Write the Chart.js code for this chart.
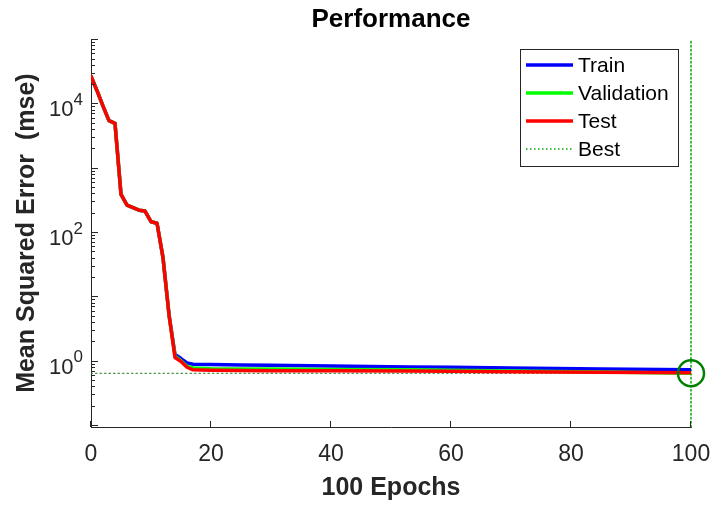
<!DOCTYPE html>
<html>
<head>
<meta charset="utf-8">
<script src="https://cdn.jsdelivr.net/npm/chart.js@4.4.1/dist/chart.umd.min.js"></script>
<style>
html, body { margin: 0; padding: 0; background: #fff; }
#wrap { width: 713px; height: 509px; }
</style>
</head>
<body>
<div id="wrap"><canvas id="perf" width="713" height="509"></canvas></div>
<script>
// values
const epochs    = [0, 1, 2, 3, 4, 5, 6, 7, 8, 9, 10, 11, 12, 13, 14, 15, 16, 17, 20, 25, 30, 40, 53, 60, 70, 85, 100];
const trainMse  = [26500, 15800, 9100, 5400, 4900, 387, 262, 240, 219, 212, 145, 137, 40, 5.2, 1.25, 1.08, 0.92, 0.88, 0.87, 0.86, 0.85, 0.83, 0.80, 0.79, 0.77, 0.745, 0.72];
const validMse  = [26500, 15800, 9100, 5400, 4900, 387, 262, 240, 219, 212, 145, 137, 40, 5.2, 1.17, 1.0, 0.82, 0.77, 0.75, 0.745, 0.74, 0.73, 0.72, 0.71, 0.69, 0.665, 0.637];
const testMse   = [26500, 15800, 9100, 5400, 4900, 387, 262, 240, 219, 212, 145, 137, 40, 5.2, 1.12, 0.97, 0.79, 0.72, 0.71, 0.705, 0.70, 0.695, 0.69, 0.685, 0.675, 0.66, 0.65];
const bestEpoch = 100;
const bestMse = 0.637;
const yMin = 0.093, yMax = 1e5;
const xTicks = [0, 20, 40, 60, 80, 100];
const yDecades = [-2, -1, 0, 1, 2, 3, 4, 5];
const yLabelExps = [0, 2, 4];
const legendNames = ['Train', 'Validation', 'Test', 'Best'];

const FONT = '"Liberation Sans", Arial, Helvetica, sans-serif';
const AXIS = '#262626';

function pts(vals) {
    return epochs.map((e, i) => ({x: e, y: vals[i]}));
}

// inward ticks, superscript log labels and the legend box
const matlabLook = {
    id: 'matlabLook',
    afterDraw(chart) {
        const ctx = chart.ctx;
        const ys = chart.scales.y, xs = chart.scales.x;
        ctx.save();
        ctx.strokeStyle = AXIS;
        ctx.lineWidth = 1;
        ctx.beginPath();
        yDecades.forEach(d => {
            for (let m = 1; m <= 9; m++) {
                const v = m * Math.pow(10, d);
                if (v < yMin || v > yMax) continue;
                const py = Math.round(ys.getPixelForValue(v)) + 0.5;
                const len = m === 1 ? 7 : 4;
                ctx.moveTo(ys.right, py);
                ctx.lineTo(ys.right + len, py);
            }
        });
        xTicks.forEach(t => {
            const px = Math.round(xs.getPixelForValue(t)) - 0.5;
            ctx.moveTo(px, xs.top);
            ctx.lineTo(px, xs.top - 6);
        });
        ctx.stroke();

        // 10^n labels
        ctx.fillStyle = AXIS;
        ctx.textBaseline = 'alphabetic';
        ctx.textAlign = 'left';
        yLabelExps.forEach(p => {
            const py = ys.getPixelForValue(Math.pow(10, p));
            ctx.font = '17px ' + FONT;
            const ew = ctx.measureText(String(p)).width;
            ctx.font = '22px ' + FONT;
            const bw = ctx.measureText('10').width;
            const right = ys.right - 8;
            ctx.fillText('10', right - ew - bw, py + 13);
            ctx.font = '17px ' + FONT;
            ctx.fillText(String(p), right - ew, py + 1.5);
        });

        // legend
        const lx = 520.5, ly = 49.5, lw = 158, lh = 117;
        ctx.fillStyle = '#fff';
        ctx.fillRect(lx, ly, lw, lh);
        ctx.strokeStyle = AXIS;
        ctx.lineWidth = 1;
        ctx.strokeRect(lx, ly, lw, lh);
        const rows = [65, 93, 121, 149];
        ctx.font = '21px ' + FONT;
        ctx.textBaseline = 'middle';
        legendNames.forEach((name, i) => {
            const ds = chart.data.datasets[i];
            ctx.beginPath();
            ctx.strokeStyle = ds.borderColor;
            ctx.lineWidth = ds.borderWidth;
            ctx.setLineDash(ds.borderDash || []);
            ctx.moveTo(526, rows[i]);
            ctx.lineTo(573, rows[i]);
            ctx.stroke();
            ctx.setLineDash([]);
            ctx.fillStyle = '#000';
            ctx.fillText(name, 578, rows[i] + 1);
        });
        ctx.restore();
    }
};

new Chart(document.getElementById('perf'), {
    type: 'line',
    data: {
        datasets: [
            {label: 'Train', data: pts(trainMse), borderColor: '#0000ff', borderWidth: 3.5, order: 3},
            {label: 'Validation', data: pts(validMse), borderColor: '#00ff00', borderWidth: 3.5, order: 2},
            {label: 'Test', data: pts(testMse), borderColor: '#ff0000', borderWidth: 3.5, order: 1},
            {label: 'Best', data: [{x: bestEpoch, y: yMin}, {x: bestEpoch, y: yMax}],
                borderColor: '#00a800', borderWidth: 1.5, borderDash: [1.5, 2.5], clip: false, order: 5},
            {label: 'bestH', data: [{x: 0, y: bestMse}, {x: bestEpoch, y: bestMse}],
                borderColor: '#1f7f1f', borderWidth: 1.2, borderDash: [1.5, 3], order: 6},
            {label: 'bestPoint', data: [{x: bestEpoch, y: bestMse}], showLine: false,
                pointRadius: 13, pointBorderWidth: 2.5, pointBorderColor: '#008000',
                pointBackgroundColor: 'rgba(0,0,0,0)', clip: false, order: 0}
        ]
    },
    options: {
        responsive: false,
        animation: false,
        devicePixelRatio: 1,
        layout: {padding: {right: 22}},
        elements: {
            line: {tension: 0, fill: false, borderJoinStyle: 'round', borderCapStyle: 'round'},
            point: {radius: 0, hoverRadius: 0}
        },
        plugins: {
            legend: {display: false},
            tooltip: {enabled: false},
            title: {
                display: true,
                fullSize: false,
                text: 'Performance',
                color: '#000',
                font: {family: FONT, size: 26, weight: 'bold'},
                padding: {top: 4, bottom: 4}
            }
        },
        scales: {
            x: {
                type: 'linear',
                min: 0,
                max: 100,
                grid: {display: false, drawTicks: false},
                border: {display: true, color: AXIS, width: 1},
                ticks: {stepSize: 20, color: AXIS, font: {family: FONT, size: 23}, padding: 14, maxRotation: 0},
                title: {display: true, text: '100 Epochs', color: AXIS,
                    font: {family: FONT, size: 25, weight: 'bold'}, padding: {top: 0, bottom: 6}},
                afterFit(scale) {
                    scale.height = 82;
                    scale.paddingLeft = 0;
                    scale.paddingRight = 0;
                }
            },
            y: {
                type: 'logarithmic',
                min: yMin,
                max: yMax,
                grid: {display: false, drawTicks: false},
                border: {display: true, color: AXIS, width: 1},
                ticks: {display: false},
                title: {display: true, text: 'Mean Squared Error  (mse)', color: AXIS,
                    font: {family: FONT, size: 25, weight: 'bold'}, padding: {top: 12, bottom: 0}},
                afterFit(scale) { scale.width = 91; }
            }
        }
    },
    plugins: [matlabLook]
});
</script>
</body>
</html>
